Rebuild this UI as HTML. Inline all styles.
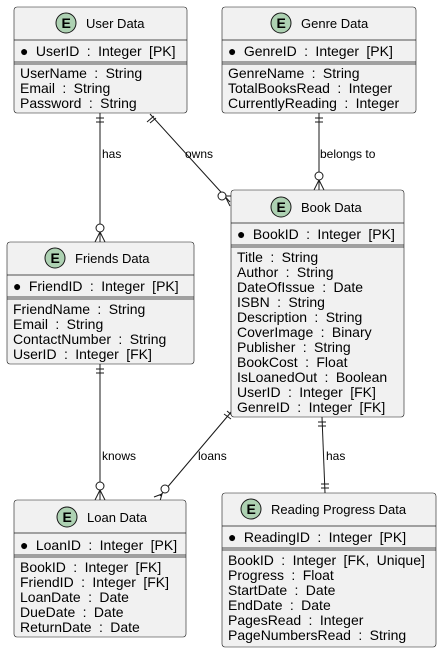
<!DOCTYPE html>
<html><head><meta charset="utf-8"><style>
html,body{margin:0;padding:0;background:#fff}
svg{display:block}
text{font-family:"Liberation Sans",Arial,sans-serif;font-size:14px;fill:#000;word-spacing:3.5px}
.h{font-size:13px;word-spacing:0}
.l{font-size:12px;word-spacing:0}
.box{fill:#f1f1f1;stroke:#181818;stroke-width:0.6}
.sep{stroke:#181818;stroke-width:0.8}
.ln{stroke:#181818;stroke-width:1;fill:none}
.c{fill:#fff;stroke:#181818;stroke-width:1}
</style></head><body>
<svg width="444" height="652" viewBox="0 0 444 652" xmlns="http://www.w3.org/2000/svg">
<defs>
<g id="E"><circle r="10" fill="#add1b2" stroke="#181818" stroke-width="1"/><text x="-4.5" y="5" style="font-size:14px;font-weight:bold;word-spacing:0">E</text></g>
</defs>

<line class="ln" x1="100" y1="113" x2="100" y2="242"/>
<line class="ln" x1="96" y1="118" x2="104" y2="118"/><line class="ln" x1="96" y1="122" x2="104" y2="122"/>
<line class="ln" x1="100" y1="232" x2="95" y2="242"/><line class="ln" x1="100" y1="232" x2="105" y2="242"/>
<circle class="c" cx="100" cy="228" r="4"/>
<text class="l" x="102" y="158">has</text>
<line class="ln" x1="150" y1="114" x2="230" y2="202"/>
<line class="ln" x1="147" y1="122" x2="154" y2="116"/><line class="ln" x1="150" y1="123" x2="156" y2="118"/>
<line class="ln" x1="225" y1="196" x2="231" y2="196"/><line class="ln" x1="225" y1="196" x2="230" y2="206"/>
<circle class="c" cx="222" cy="196" r="4"/>
<text class="l" x="185" y="158">owns</text>
<line class="ln" x1="319" y1="113" x2="319" y2="190"/>
<line class="ln" x1="315" y1="118" x2="323" y2="118"/><line class="ln" x1="315" y1="122" x2="323" y2="122"/>
<line class="ln" x1="319" y1="180" x2="314" y2="190"/><line class="ln" x1="319" y1="180" x2="324" y2="190"/>
<circle class="c" cx="319" cy="176" r="4"/>
<text class="l" x="320" y="158">belongs to</text>
<line class="ln" x1="100" y1="364" x2="100" y2="500"/>
<line class="ln" x1="96" y1="369" x2="104" y2="369"/><line class="ln" x1="96" y1="373" x2="104" y2="373"/>
<line class="ln" x1="100" y1="490" x2="95" y2="500"/><line class="ln" x1="100" y1="490" x2="105" y2="500"/>
<circle class="c" cx="100" cy="486" r="4"/>
<text class="l" x="102" y="460">knows</text>
<line class="ln" x1="232" y1="411" x2="160" y2="496"/>
<line class="ln" x1="224" y1="414" x2="231" y2="419"/><line class="ln" x1="227" y1="411" x2="233" y2="416"/>
<line class="ln" x1="162" y1="494" x2="154" y2="497"/><line class="ln" x1="162" y1="494" x2="160" y2="501"/>
<circle class="c" cx="165" cy="489" r="4"/>
<text class="l" x="198" y="460">loans</text>
<line class="ln" x1="322" y1="417" x2="325" y2="493"/>
<line class="ln" x1="318" y1="422" x2="326" y2="422"/><line class="ln" x1="318" y1="426" x2="326" y2="426"/>
<line class="ln" x1="321" y1="484" x2="329" y2="484"/><line class="ln" x1="321" y1="488" x2="329" y2="488"/>
<text class="l" x="326" y="460">has</text>

<rect class="box" x="14" y="7" width="173" height="106" rx="3"/>
<use href="#E" x="66" y="23"/><text class="h" x="86" y="28">User Data</text>
<line class="sep" x1="14" y1="40" x2="187" y2="40"/>
<text x="20" y="56">● UserID : Integer [PK]</text>
<line class="sep" x1="14" y1="62" x2="187" y2="62"/><line class="sep" x1="14" y1="64" x2="187" y2="64"/>
<text x="20" y="78">UserName : String</text><text x="20" y="93">Email : String</text><text x="20" y="108">Password : String</text>

<rect class="box" x="222" y="7" width="194" height="106" rx="3"/>
<use href="#E" x="281" y="23"/><text class="h" x="301" y="28">Genre Data</text>
<line class="sep" x1="222" y1="40" x2="416" y2="40"/>
<text x="228" y="56">● GenreID : Integer [PK]</text>
<line class="sep" x1="222" y1="62" x2="416" y2="62"/><line class="sep" x1="222" y1="64" x2="416" y2="64"/>
<text x="228" y="78">GenreName : String</text><text x="228" y="93">TotalBooksRead : Integer</text><text x="228" y="108">CurrentlyReading : Integer</text>

<rect class="box" x="231" y="190" width="173" height="227" rx="3"/>
<use href="#E" x="281" y="207"/><text class="h" x="301" y="212">Book Data</text>
<line class="sep" x1="231" y1="223" x2="404" y2="223"/>
<text x="237" y="239">● BookID : Integer [PK]</text>
<line class="sep" x1="231" y1="245" x2="404" y2="245"/><line class="sep" x1="231" y1="247" x2="404" y2="247"/>
<text x="237" y="262">Title : String</text><text x="237" y="277">Author : String</text><text x="237" y="292">DateOfIssue : Date</text>
<text x="237" y="307">ISBN : String</text><text x="237" y="322">Description : String</text><text x="237" y="337">CoverImage : Binary</text>
<text x="237" y="352">Publisher : String</text><text x="237" y="367">BookCost : Float</text><text x="237" y="382">IsLoanedOut : Boolean</text>
<text x="237" y="397">UserID : Integer [FK]</text><text x="237" y="412">GenreID : Integer [FK]</text>

<rect class="box" x="7" y="242" width="187" height="122" rx="3"/>
<use href="#E" x="55" y="258"/><text class="h" x="75" y="263">Friends Data</text>
<line class="sep" x1="7" y1="275" x2="194" y2="275"/>
<text x="13" y="291">● FriendID : Integer [PK]</text>
<line class="sep" x1="7" y1="297" x2="194" y2="297"/><line class="sep" x1="7" y1="299" x2="194" y2="299"/>
<text x="13" y="314">FriendName : String</text><text x="13" y="329">Email : String</text><text x="13" y="344">ContactNumber : String</text><text x="13" y="359">UserID : Integer [FK]</text>

<rect class="box" x="14" y="500" width="172" height="137" rx="3"/>
<use href="#E" x="67" y="517"/><text class="h" x="87" y="522">Loan Data</text>
<line class="sep" x1="14" y1="533" x2="186" y2="533"/>
<text x="20" y="550">● LoanID : Integer [PK]</text>
<line class="sep" x1="14" y1="555" x2="186" y2="555"/><line class="sep" x1="14" y1="557" x2="186" y2="557"/>
<text x="20" y="572">BookID : Integer [FK]</text><text x="20" y="587">FriendID : Integer [FK]</text><text x="20" y="602">LoanDate : Date</text>
<text x="20" y="617">DueDate : Date</text><text x="20" y="632">ReturnDate : Date</text>

<rect class="box" x="222" y="493" width="214" height="154" rx="3"/>
<use href="#E" x="251" y="509"/><text class="h" x="271" y="514">Reading Progress Data</text>
<line class="sep" x1="222" y1="526" x2="436" y2="526"/>
<text x="228" y="542">● ReadingID : Integer [PK]</text>
<line class="sep" x1="222" y1="548" x2="436" y2="548"/><line class="sep" x1="222" y1="550" x2="436" y2="550"/>
<text x="228" y="565">BookID : Integer [FK, Unique]</text><text x="228" y="580">Progress : Float</text><text x="228" y="595">StartDate : Date</text>
<text x="228" y="610">EndDate : Date</text><text x="228" y="625">PagesRead : Integer</text><text x="228" y="640">PageNumbersRead : String</text>
</svg>
</body></html>
